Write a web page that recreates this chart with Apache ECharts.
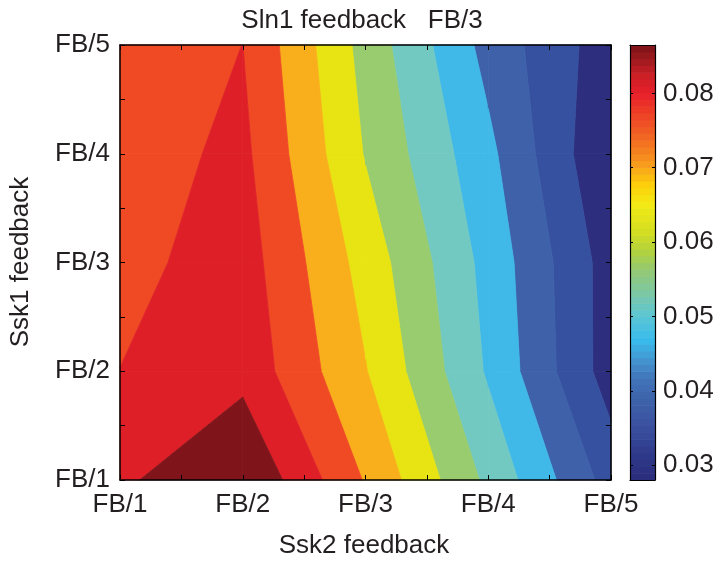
<!DOCTYPE html>
<html>
<head>
<meta charset="utf-8">
<script src="https://cdn.jsdelivr.net/npm/echarts@6/dist/echarts.min.js"></script>
<style>
  html, body { margin: 0; padding: 0; background: #ffffff; }
  #chart { width: 718px; height: 565px; }
</style>
</head>
<body>
<div id="chart"></div>
<script>
// Feedback strength labels on both axes
const ssk2Labels = ['FB/1', 'FB/2', 'FB/3', 'FB/4', 'FB/5'];
const ssk1Labels = ['FB/1', 'FB/2', 'FB/3', 'FB/4', 'FB/5'];
// Axis positions of the feedback strengths and of the tick marks
const gridPos = [1, 2, 3, 4, 5];
const tickPos = [1, 1.5, 2, 2.5, 3, 3.5, 4, 4.5, 5];

// Simulated output, one row per Ssk1 feedback; columns follow Ssk2 feedback FB/1..FB/5
const rowSsk1FB1 = [0.08017, 0.08650, 0.07012, 0.05337, 0.03640];
const rowSsk1FB2 = [0.07592, 0.07953, 0.06549, 0.04858, 0.03066];
const rowSsk1FB3 = [0.07422, 0.07842, 0.06310, 0.04746, 0.03077];
const rowSsk1FB4 = [0.07326, 0.07714, 0.05954, 0.04528, 0.02800];
const rowSsk1FB5 = [0.07267, 0.07589, 0.05794, 0.04209, 0.03023];
const surface = [rowSsk1FB1, rowSsk1FB2, rowSsk1FB3, rowSsk1FB4, rowSsk1FB5];

// Filled-contour levels and the colour of each band (lowest band first)
const contourLevels = [0.03332, 0.03864, 0.04395, 0.04927, 0.05459, 0.05991, 0.06523, 0.07055, 0.07586, 0.08118];
const bandColors = ['#2d2e7e', '#3651a0', '#3e61aa', '#40b9e9', '#72c9c1', '#99cc6f',
                    '#e8e312', '#f9ae1b', '#ef4a24', '#de1f27', '#7f151a'];

// Colour bar: value range, labelled ticks, colormap anchors
const colorRange = [0.0280, 0.0865];
const colorbarTicks = [0.03, 0.04, 0.05, 0.06, 0.07, 0.08];
const colormapAnchors = [
  [0.0280, '#2a2b7b'], [0.0316, '#2e3a8a'], [0.0348, '#3a4e9e'], [0.0384, '#3d60a8'],
  [0.0416, '#4174b8'], [0.0442, '#4496d0'], [0.0469, '#38bced'], [0.0504, '#60c6d0'],
  [0.0531, '#7cc8a6'], [0.0563, '#94c872'], [0.0590, '#b4d33a'], [0.0616, '#d6df20'],
  [0.0652, '#f3ea14'], [0.0679, '#fdcc0a'], [0.0706, '#f79a1e'], [0.0737, '#f26c22'],
  [0.0769, '#ee4526'], [0.0800, '#e8202a'], [0.0824, '#cc1f26'], [0.0845, '#a01a1e'],
  [0.0865, '#7a1419']
];
const colormapSteps = 64;

const FONT = '"Liberation Sans", Arial, Helvetica, sans-serif';
const FONT_SIZE = 26;
const INK = '#231f20';

// ---- helpers -------------------------------------------------------------
function hexToRgb(h) {
  const n = parseInt(h.slice(1), 16);
  return [(n >> 16) & 255, (n >> 8) & 255, n & 255];
}
function colormapAt(v) {
  const a = colormapAnchors;
  if (v <= a[0][0]) return a[0][1];
  for (let k = 1; k < a.length; k++) {
    if (v <= a[k][0]) {
      const t = (v - a[k - 1][0]) / (a[k][0] - a[k - 1][0]);
      const c0 = hexToRgb(a[k - 1][1]), c1 = hexToRgb(a[k][1]);
      const c = c0.map((x, m) => Math.round(x + (c1[m] - x) * t));
      return 'rgb(' + c.join(',') + ')';
    }
  }
  return a[a.length - 1][1];
}

// Sutherland-Hodgman clip of a cell polygon against z >= level (keepAbove) or z <= level,
// with linear interpolation along edges (same as marching squares contouring)
function clipPoly(poly, level, keepAbove) {
  if (!isFinite(level)) return poly;
  const inside = p => keepAbove ? p.z >= level : p.z <= level;
  const out = [];
  for (let k = 0; k < poly.length; k++) {
    const P = poly[(k + poly.length - 1) % poly.length];
    const Q = poly[k];
    const inP = inside(P), inQ = inside(Q);
    if (inP !== inQ) {
      const t = (level - P.z) / (Q.z - P.z);
      out.push({ x: P.x + (Q.x - P.x) * t, y: P.y + (Q.y - P.y) * t, z: level });
    }
    if (inQ) out.push(Q);
  }
  return out;
}

// One data item per grid cell (its lower-left corner in axis units)
const cells = [];
for (let j = 0; j < gridPos.length - 1; j++) {
  for (let i = 0; i < gridPos.length - 1; i++) {
    cells.push([gridPos[i], gridPos[j]]);
  }
}

function renderCell(params, api) {
  const i = gridPos.indexOf(api.value(0));
  const j = gridPos.indexOf(api.value(1));
  const corners = [
    { x: gridPos[i],     y: gridPos[j],     z: surface[j][i] },
    { x: gridPos[i + 1], y: gridPos[j],     z: surface[j][i + 1] },
    { x: gridPos[i + 1], y: gridPos[j + 1], z: surface[j + 1][i + 1] },
    { x: gridPos[i],     y: gridPos[j + 1], z: surface[j + 1][i] }
  ];
  const children = [];
  for (let b = 0; b < bandColors.length; b++) {
    const lo = b === 0 ? -Infinity : contourLevels[b - 1];
    const hi = b === bandColors.length - 1 ? Infinity : contourLevels[b];
    let poly = clipPoly(corners, lo, true);
    if (poly.length >= 3) poly = clipPoly(poly, hi, false);
    if (poly.length < 3) continue;
    children.push({
      type: 'polygon',
      shape: { points: poly.map(p => api.coord([p.x, p.y])) },
      style: { fill: bandColors[b], stroke: bandColors[b], lineWidth: 0.8 },
      silent: true
    });
  }
  return { type: 'group', children: children };
}

// Colour bar drawn as stepped rectangles along its value axis
const colorbarSteps = [];
for (let k = 0; k < colormapSteps; k++) colorbarSteps.push([0, k]);

function renderColorbar(params, api) {
  const k = api.value(1);
  const span = (colorRange[1] - colorRange[0]) / colormapSteps;
  const v0 = colorRange[0] + k * span, v1 = v0 + span;
  const pLow = api.coord([0, v0]);
  const pHigh = api.coord([1, v1]);
  return {
    type: 'rect',
    shape: { x: pLow[0], y: pHigh[1], width: pHigh[0] - pLow[0], height: pLow[1] - pHigh[1] + 0.6 },
    style: { fill: colormapAt((v0 + v1) / 2) },
    silent: true
  };
}

// ---- axes ------------------------------------------------------------------
const frameLine = { show: true, onZero: false, lineStyle: { color: '#000', width: 1.5 } };

function positionAxis(grid, position, labels) {
  return {
    type: 'value', gridIndex: grid, position: position, min: 1, max: 5, z: 10,
    axisLine: frameLine,
    axisTick: { show: true, inside: true, length: 5, customValues: tickPos, lineStyle: { color: '#000', width: 1 } },
    axisLabel: labels ? {
      show: true, customValues: gridPos, formatter: v => labels[Math.round(v) - 1],
      fontFamily: FONT, fontSize: FONT_SIZE, color: INK, margin: position === 'bottom' ? 12 : 10
    } : { show: false },
    splitLine: { show: false }
  };
}

function colorbarFrame(position) {
  return {
    type: 'value', gridIndex: 1, position: position, min: 0, max: 1, z: 10,
    axisLine: { show: true, onZero: false, lineStyle: { color: '#000', width: 1.2 } },
    axisTick: { show: false }, axisLabel: { show: false }, splitLine: { show: false }
  };
}

function colorbarAxis(position, withLabels) {
  return {
    type: 'value', gridIndex: 1, position: position, min: colorRange[0], max: colorRange[1], z: 10,
    axisLine: { show: true, onZero: false, lineStyle: { color: '#000', width: 1.2 } },
    axisTick: { show: true, inside: true, length: 3, customValues: colorbarTicks, lineStyle: { color: '#000', width: 1 } },
    axisLabel: withLabels ? {
      show: true, customValues: colorbarTicks, formatter: v => v.toFixed(2),
      fontFamily: FONT, fontSize: FONT_SIZE, color: INK, margin: 8
    } : { show: false },
    splitLine: { show: false }
  };
}

const chart = echarts.init(document.getElementById('chart'), null, { renderer: 'canvas' });

chart.setOption({
  backgroundColor: '#ffffff',
  animation: false,
  grid: [
    { left: 120, top: 45, width: 491, height: 435 },
    { left: 630, top: 45, width: 25, height: 435 }
  ],
  xAxis: [
    positionAxis(0, 'bottom', ssk2Labels),
    positionAxis(0, 'top', null),
    colorbarFrame('bottom'),
    colorbarFrame('top')
  ],
  yAxis: [
    positionAxis(0, 'left', ssk1Labels),
    positionAxis(0, 'right', null),
    colorbarAxis('right', true),
    colorbarAxis('left', false)
  ],
  series: [
    {
      type: 'custom', name: 'contour', xAxisIndex: 0, yAxisIndex: 0,
      renderItem: renderCell, data: cells, clip: false, silent: true
    },
    {
      type: 'custom', name: 'colorbar', xAxisIndex: 2, yAxisIndex: 2,
      renderItem: renderColorbar, data: colorbarSteps, silent: true
    }
  ],
  graphic: [
    {
      type: 'text', x: 362, y: 21,
      style: { text: 'Sln1 feedback   FB/3', font: FONT_SIZE + 'px ' + FONT, fill: INK, align: 'center', verticalAlign: 'middle' }
    },
    {
      type: 'text', x: 364, y: 546,
      style: { text: 'Ssk2 feedback', font: FONT_SIZE + 'px ' + FONT, fill: INK, align: 'center', verticalAlign: 'middle' }
    },
    {
      type: 'text', x: 21, y: 262, rotation: Math.PI / 2,
      style: { text: 'Ssk1 feedback', font: FONT_SIZE + 'px ' + FONT, fill: INK, align: 'center', verticalAlign: 'middle' }
    }
  ]
});
</script>
</body>
</html>
